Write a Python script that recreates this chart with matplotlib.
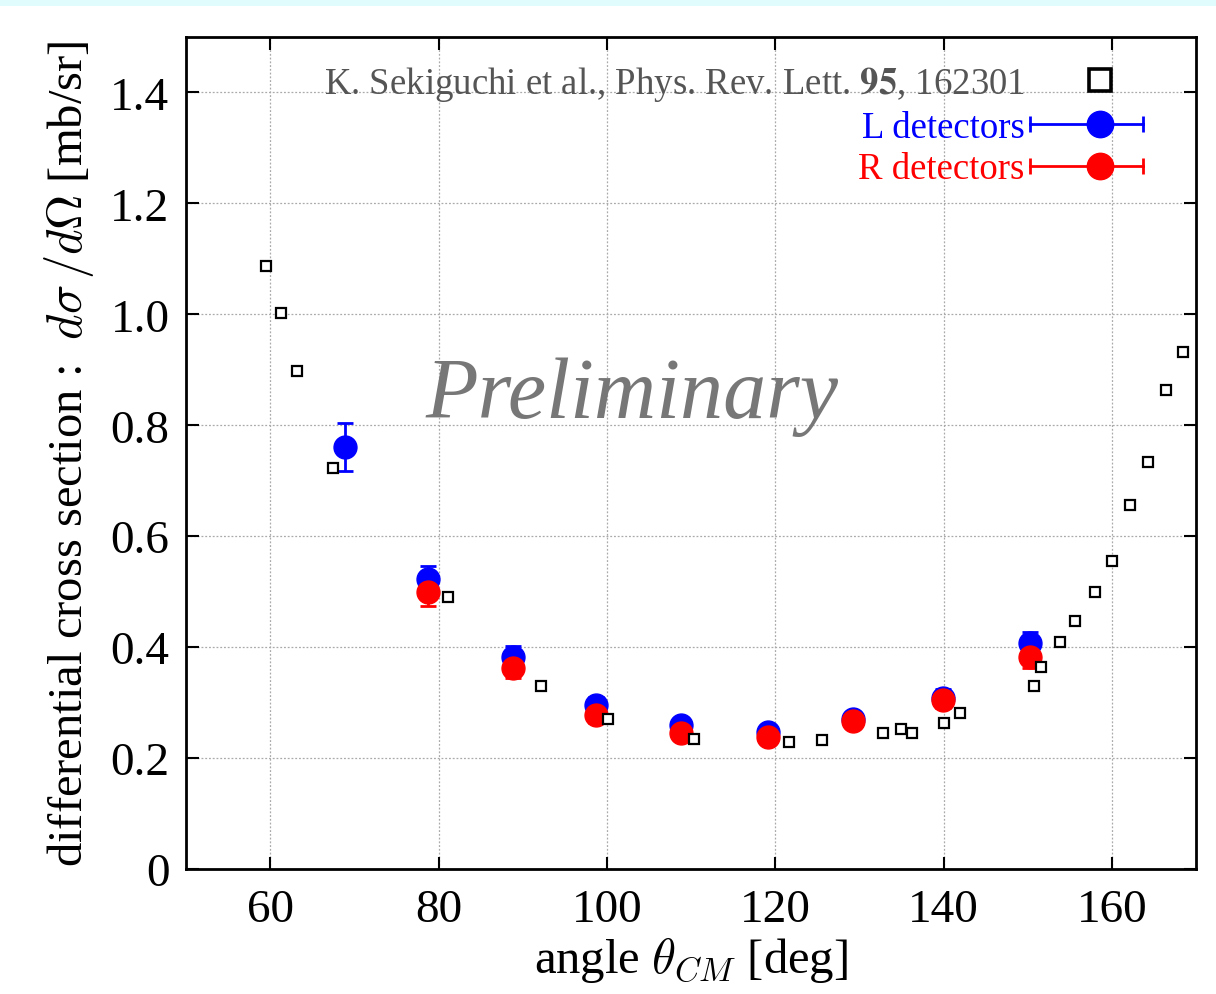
import matplotlib
matplotlib.use("Agg")
import matplotlib.pyplot as plt
from matplotlib.lines import Line2D
from matplotlib.legend_handler import HandlerLine2D, HandlerTuple
from matplotlib.patches import Rectangle

# Sekiguchi et al. data (open squares)
ref_angle = [59.5, 61.25, 63.2, 67.5, 81.1, 92.2, 100.1, 110.4, 121.6, 125.5,
             132.75, 134.9, 136.2, 140.0, 142.0, 150.7, 151.6, 153.8, 155.65,
             158.0, 160.0, 162.1, 164.3, 166.4, 168.5]
ref_xsec = [1.087, 1.002, 0.898, 0.7235, 0.490, 0.330, 0.270, 0.235, 0.2286,
            0.232, 0.246, 0.2525, 0.245, 0.263, 0.281, 0.330, 0.3645, 0.409,
            0.448, 0.500, 0.556, 0.657, 0.734, 0.8636, 0.933]

# L detectors
l_angle = [68.9, 78.7, 88.8, 98.7, 108.8, 119.1, 129.3, 139.9, 150.3]
l_xsec = [0.761, 0.522, 0.382, 0.296, 0.260, 0.247, 0.2705, 0.309, 0.407]
l_err = [0.043, 0.025, 0.020, 0.014, 0.012, 0.012, 0.013, 0.015, 0.020]

# R detectors
r_angle = [78.7, 88.8, 98.7, 108.8, 119.1, 129.3, 139.9, 150.3]
r_xsec = [0.499, 0.363, 0.277, 0.245, 0.238, 0.2675, 0.305, 0.382]
r_err = [0.025, 0.019, 0.014, 0.012, 0.012, 0.013, 0.015, 0.019]

x_ticks = [60, 80, 100, 120, 140, 160]
y_ticks = [0, 0.2, 0.4, 0.6, 0.8, 1.0, 1.2, 1.4]
y_tick_labels = ["0", "0.2", "0.4", "0.6", "0.8", "1.0", "1.2", "1.4"]

plt.rcParams["font.family"] = ["Liberation Serif", "DejaVu Serif"]
plt.rcParams["mathtext.fontset"] = "cm"

BLUE = "#0000ff"
RED = "#ff0000"


class ShiftedMarker(HandlerLine2D):
    # single marker placed a bit right of the handle centre (gnuplot style)
    def get_xdata(self, legend, xdescent, ydescent, width, height, fontsize):
        x = [-xdescent + 0.2 * width, -xdescent + width]
        return x, [-xdescent + 0.6 * width]


fig = plt.figure(figsize=(12.16, 9.95), dpi=100)
fig.patches.append(Rectangle((0, 0.993), 1, 0.007, transform=fig.transFigure,
                             facecolor="#e0fcfc", edgecolor="none"))
ax = fig.add_axes([0.153, 0.1256, 0.8306, 0.8362])

ax.plot(ref_angle, ref_xsec, ls="none", marker="s", ms=7, mfc="white",
        mec="black", mew=1.6, zorder=4)
ax.errorbar(l_angle, l_xsec, yerr=l_err, fmt="o", color=BLUE, ms=16.5,
            elinewidth=2, capsize=6, capthick=2, zorder=3)
ax.errorbar(r_angle, r_xsec, yerr=r_err, fmt="o", color=RED, ms=16.5,
            elinewidth=2, capsize=6, capthick=2, zorder=3)

ax.set_xlim(50, 170)
ax.set_ylim(0, 1.5)
ax.set_xticks(x_ticks)
ax.set_yticks(y_ticks)
ax.set_yticklabels(y_tick_labels)
ax.tick_params(direction="in", length=9, width=1.5, labelsize=34,
               top=True, right=True)
ax.tick_params(axis="x", pad=14)
ax.tick_params(axis="y", pad=12)
ax.grid(True, ls=(0, (1.5, 1.5)), color="#aaaaaa", lw=0.9)
for s in ax.spines.values():
    s.set_linewidth(2)

ax.set_xlabel(r"angle $\theta_{CM}$ [deg]", fontsize=35, labelpad=2)
ax.set_ylabel(r"differential cross section :  $d\sigma\,/d\Omega$ [mb/sr]",
              fontsize=35, labelpad=10)

ax.text(103, 0.853, "Preliminary", fontsize=62, style="italic",
        color="#777777", ha="center", va="center")

# legend with gnuplot-like horizontal bars
sq = Line2D([], [], ls="none", marker="s", ms=16, mfc="white", mec="black",
            mew=2.6)
l_bar = Line2D([], [], color=BLUE, lw=2, marker="|", ms=12, mew=2)
l_dot = Line2D([], [], color=BLUE, ls="none", marker="o", ms=19)
r_bar = Line2D([], [], color=RED, lw=2, marker="|", ms=12, mew=2)
r_dot = Line2D([], [], color=RED, ls="none", marker="o", ms=19)
hmap = {l_bar: HandlerLine2D(numpoints=2), r_bar: HandlerLine2D(numpoints=2),
        l_dot: ShiftedMarker(), r_dot: ShiftedMarker(), sq: ShiftedMarker(),
        tuple: HandlerTuple(ndivide=1)}
leg = ax.legend([sq, (l_bar, l_dot), (r_bar, r_dot)],
                [r"K. Sekiguchi et al., Phys. Rev. Lett. $\mathbf{95}$, 162301",
                 "L detectors", "R detectors"],
                handler_map=hmap, loc="upper right",
                bbox_to_anchor=(0.9733, 0.9856), frameon=False,
                markerfirst=False, fontsize=26.5, handlelength=3.67,
                handletextpad=-0.15, labelspacing=0.2, borderaxespad=0)
for t, c in zip(leg.get_texts(), ["#555555", BLUE, RED]):
    t.set_color(c)
    t.set_math_fontfamily("stix")

fig.savefig("out.png", dpi=100)
